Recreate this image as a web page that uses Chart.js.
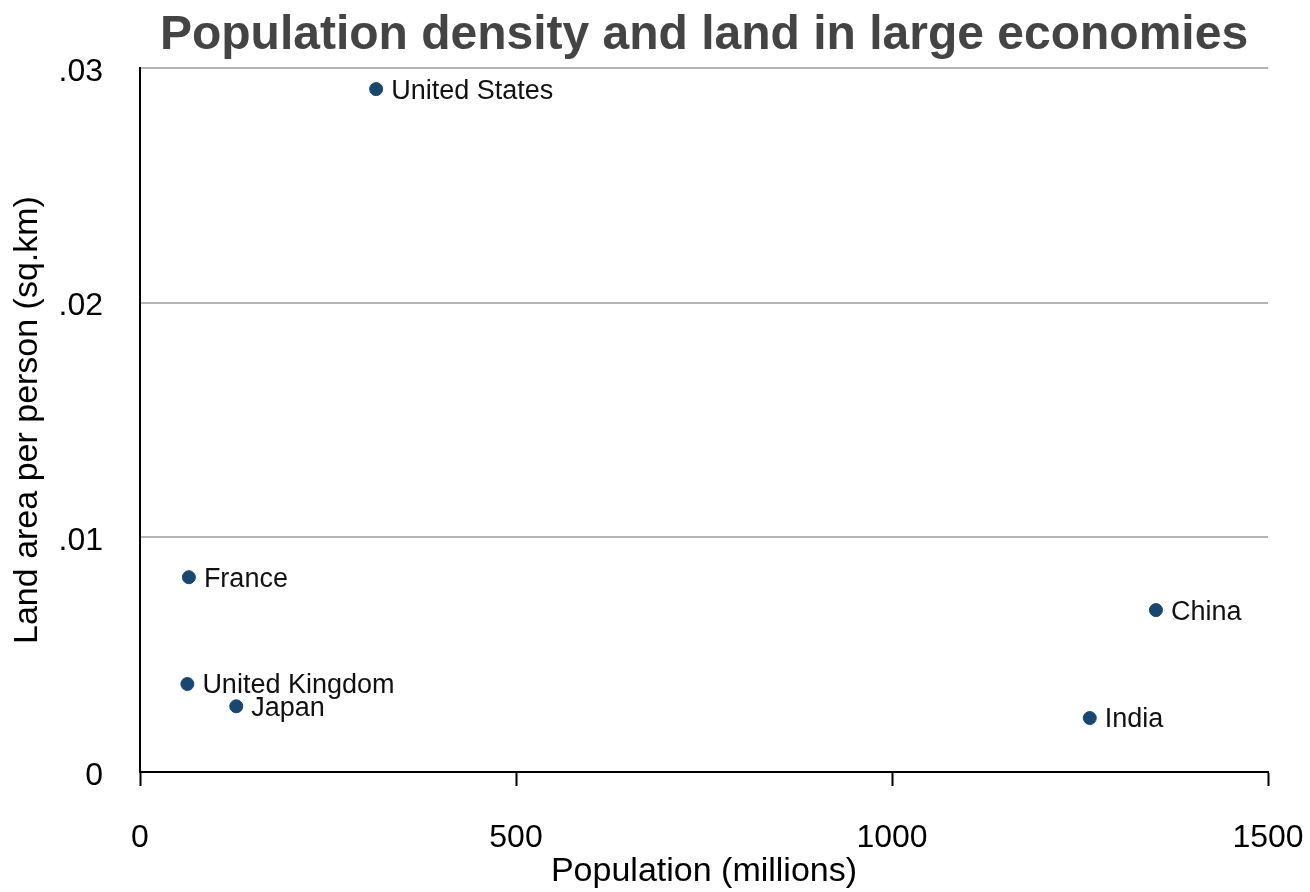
<!DOCTYPE html>
<html>
<head>
<meta charset="utf-8">
<script src="https://cdn.jsdelivr.net/npm/chart.js@4.4.0/dist/chart.umd.min.js"></script>
<style>
  html, body { margin: 0; padding: 0; background: #fff; }
  #wrap { width: 1310px; height: 892px; }
</style>
</head>
<body>
<div id="wrap"><canvas id="scatter"></canvas></div>
<script>
// Data
const countries = ['United States', 'France', 'United Kingdom', 'Japan', 'China', 'India'];
const population = [314, 65, 63, 128, 1351, 1263];            // millions
const landPerPerson = [0.0291, 0.0083, 0.00375, 0.0028, 0.0069, 0.0023]; // sq.km
const xTicks = [0, 500, 1000, 1500];
const yTicks = [0, 0.01, 0.02, 0.03];

const titleText = 'Population density and land in large economies';
const FONT = '"Liberation Sans", Arial, Helvetica, sans-serif';

// Title centred over the plot area, plus a text label beside each marker
const labelPlugin = {
    id: 'labels',
    afterDatasetsDraw(chart) {
        const ctx = chart.ctx;
        const area = chart.chartArea;
        const meta = chart.getDatasetMeta(0);
        ctx.save();
        ctx.fillStyle = '#111';
        ctx.font = '27px ' + FONT;
        ctx.textAlign = 'left';
        ctx.textBaseline = 'middle';
        meta.data.forEach((pt, i) => {
            ctx.fillText(countries[i], pt.x + 15, pt.y + 2);
        });
        ctx.fillStyle = '#444';
        ctx.font = 'bold 48px ' + FONT;
        ctx.textAlign = 'center';
        ctx.fillText(titleText, (area.left + area.right) / 2, 36);
        ctx.restore();
    }
};

const points = population.map((p, i) => ({ x: p, y: landPerPerson[i] }));

new Chart(document.getElementById('scatter'), {
    type: 'scatter',
    data: {
        datasets: [{
            data: points,
            backgroundColor: '#1a476f',
            borderColor: '#1a476f',
            pointRadius: 6.5,
            pointHoverRadius: 6.5
        }]
    },
    options: {
        responsive: true,
        maintainAspectRatio: false,
        animation: false,
        layout: { padding: { top: 68, right: 42, bottom: 0, left: 0 } },
        plugins: {
            legend: { display: false },
            tooltip: { enabled: false },
            title: { display: false }
        },
        scales: {
            x: {
                type: 'linear',
                min: 0,
                max: 1500,
                afterBuildTicks: axis => { axis.ticks = xTicks.map(v => ({ value: v })); },
                afterFit: axis => {
                    axis.height = 120;
                    axis.paddingLeft = 0;
                    axis.paddingRight = 0;
                },
                ticks: {
                    color: '#000',
                    font: { family: FONT, size: 32 },
                    padding: 33,
                    maxRotation: 0,
                    callback: v => String(v)
                },
                grid: {
                    drawOnChartArea: false,
                    drawTicks: true,
                    tickLength: 14,
                    tickWidth: 2,
                    tickColor: '#000'
                },
                border: { color: '#000', width: 2 },
                title: {
                    display: true,
                    text: 'Population (millions)',
                    color: '#000',
                    font: { family: FONT, size: 34 },
                    padding: { top: 0, bottom: 0 }
                }
            },
            y: {
                type: 'linear',
                min: 0,
                max: 0.03,
                afterBuildTicks: axis => { axis.ticks = yTicks.map(v => ({ value: v })); },
                afterFit: axis => { axis.width = 140; },
                ticks: {
                    color: '#000',
                    font: { family: FONT, size: 32 },
                    padding: 37,
                    labelOffset: 4,
                    callback: v => (v === 0 ? '0' : v.toFixed(2).replace(/^0/, ''))
                },
                grid: {
                    drawTicks: false,
                    lineWidth: 2,
                    color: c => (c.tick && c.tick.value === 0 ? 'rgba(0,0,0,0)' : '#b4b4b4')
                },
                border: { color: '#000', width: 2 },
                title: {
                    display: true,
                    text: 'Land area per person (sq.km)',
                    color: '#000',
                    font: { family: FONT, size: 34 },
                    padding: { top: 7, bottom: 0 }
                }
            }
        }
    },
    plugins: [labelPlugin]
});
</script>
</body>
</html>
